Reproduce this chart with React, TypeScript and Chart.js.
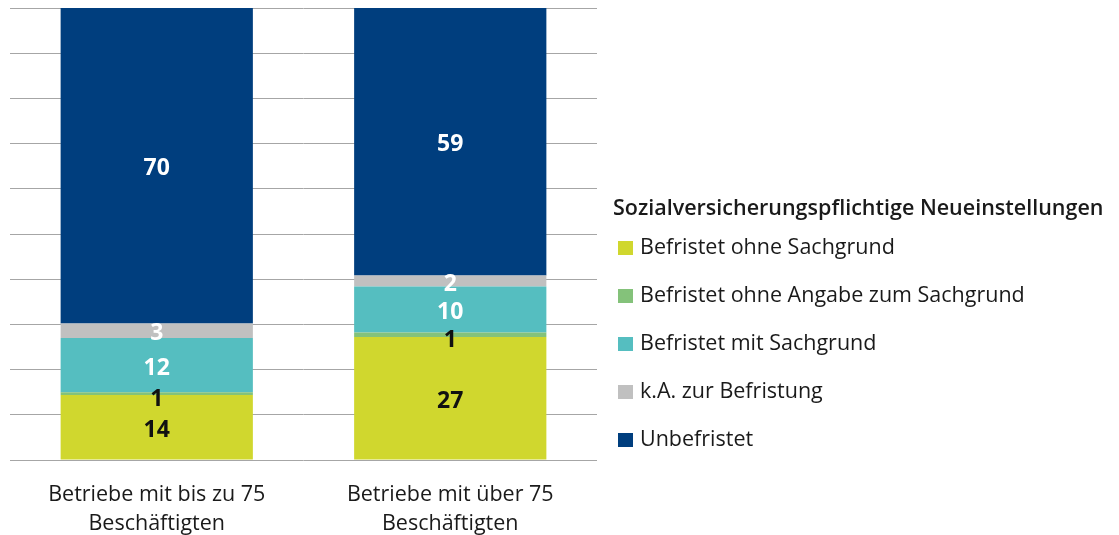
import React, { useEffect, useRef } from "react";
import { Chart, registerables } from "chart.js";

Chart.register(...registerables);

const categories: string[][] = [
  ["Betriebe mit bis zu 75", "Beschäftigten"],
  ["Betriebe mit über 75", "Beschäftigten"],
];

const seriesNames = [
  "Befristet ohne Sachgrund",
  "Befristet ohne Angabe zum Sachgrund",
  "Befristet mit Sachgrund",
  "k.A. zur Befristung",
  "Unbefristet",
];

const befristetOhneSachgrund = [14.4, 27.2];
const befristetOhneAngabe = [0.6, 1.0];
const befristetMitSachgrund = [12.0, 10.2];
const kaBefristung = [3.2, 2.4];
const unbefristet = [69.8, 59.2];

const seriesColors = ["#d0d72e", "#84c27a", "#55bec0", "#c0c0c0", "#003e7e"];
const labelColors = ["#111111", "#111111", "#ffffff", "#ffffff", "#ffffff"];

const legendTitle = "Sozialversicherungspflichtige Neueinstellungen";

const FONT = "'Open Sans', 'Noto Sans', sans-serif";

export default function App() {
  const ref = useRef<HTMLCanvasElement | null>(null);

  useEffect(() => {
    document.body.style.margin = "0";
    const canvas = ref.current;
    if (!canvas) return;

    const valueLabels = {
      id: "valueLabels",
      afterDatasetsDraw(chart: any) {
        const ctx = chart.ctx;
        ctx.save();
        ctx.font = `bold 23px ${FONT}`;
        ctx.textAlign = "center";
        ctx.textBaseline = "middle";
        chart.data.datasets.forEach((ds: any, di: number) => {
          const meta = chart.getDatasetMeta(di);
          meta.data.forEach((el: any, i: number) => {
            const v = ds.data[i];
            const y = (el.y + el.base) / 2 + 3 + (di === 1 ? 3 : 0);
            ctx.fillStyle = labelColors[di];
            ctx.fillText(String(Math.round(v)), el.x, y);
          });
        });
        ctx.restore();
      },
    };

    const customLegend = {
      id: "customLegend",
      afterDraw(chart: any) {
        const ctx = chart.ctx;
        ctx.save();
        ctx.textBaseline = "middle";
        ctx.textAlign = "left";
        ctx.fillStyle = "#1a1a1a";
        ctx.font = `600 21.5px ${FONT}`;
        ctx.fillText(legendTitle, 613, 209);
        ctx.font = `21.5px ${FONT}`;
        seriesNames.forEach((name, i) => {
          const cy = 248 + i * 48;
          ctx.fillStyle = seriesColors[i];
          ctx.fillRect(618, cy - 7, 15, 14);
          ctx.fillStyle = "#1a1a1a";
          ctx.fillText(name, 640, cy);
        });
        ctx.restore();
      },
    };

    const dataArrays = [
      befristetOhneSachgrund,
      befristetOhneAngabe,
      befristetMitSachgrund,
      kaBefristung,
      unbefristet,
    ];

    const chart = new Chart(canvas, {
      type: "bar",
      data: {
        labels: categories as any,
        datasets: dataArrays.map((d, i) => ({
          label: seriesNames[i],
          data: d,
          backgroundColor: seriesColors[i],
          borderWidth: 0,
          categoryPercentage: 1,
          barPercentage: 0.655,
        })),
      },
      options: {
        animation: false,
        responsive: false,
        maintainAspectRatio: false,
        layout: { padding: { left: 10, right: 522, top: 8, bottom: 0 } },
        plugins: {
          legend: { display: false },
          tooltip: { enabled: false },
          title: { display: false },
        },
        scales: {
          x: {
            stacked: true,
            grid: { display: false },
            border: { display: false },
            ticks: {
              color: "#1a1a1a",
              font: { family: FONT, size: 21.5, lineHeight: 1.35 },
              padding: 12,
              maxRotation: 0,
              autoSkip: false,
            },
            afterFit(scale: any) {
              scale.height = 75;
            },
          },
          y: {
            stacked: true,
            min: 0,
            max: 100,
            border: { display: false },
            grid: { color: "#a6a6a6", lineWidth: 1, drawTicks: false },
            ticks: { display: false, stepSize: 10 },
            afterFit(scale: any) {
              scale.width = 0;
            },
          },
        },
      },
      plugins: [valueLabels, customLegend],
    });

    return () => chart.destroy();
  }, []);

  return (
    <div style={{ width: 1119, height: 535, background: "#fff" }}>
      <canvas ref={ref} width={1119} height={535} style={{ display: "block" }} />
    </div>
  );
}
